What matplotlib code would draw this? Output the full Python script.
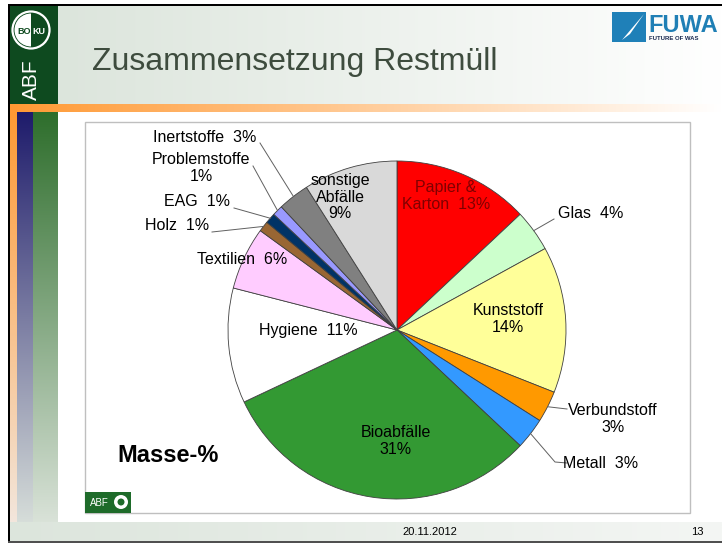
import matplotlib
matplotlib.use("Agg")
import matplotlib.pyplot as plt
import numpy as np
from matplotlib.colors import to_rgb
from matplotlib.patches import Rectangle, Circle, Wedge, Polygon

plt.rcParams['font.family'] = ['Liberation Sans', 'DejaVu Sans']

# ---------------- data ----------------
categories = ["Papier & Karton", "Glas", "Kunststoff", "Verbundstoff", "Metall",
              "Bioabfälle", "Hygiene", "Textilien", "Holz", "EAG",
              "Problemstoffe", "Inertstoffe", "sonstige Abfälle"]
values = [13, 4, 14, 3, 3, 31, 11, 6, 1, 1, 1, 3, 9]
slice_colors = ['#FF0000', '#CCFFCC', '#FFFF99', '#FF9900', '#3399FF',
                '#339933', '#FFFFFF', '#FFCCFF', '#996633', '#003366',
                '#9999FF', '#808080', '#D9D9D9']
label_texts = ["Papier &\nKarton  13%", "Glas  4%", "Kunststoff\n14%",
               "Verbundstoff\n3%", "Metall  3%", "Bioabfälle\n31%",
               "Hygiene  11%", "Textilien  6%", "Holz  1%", "EAG  1%",
               "Problemstoffe\n1%", "Inertstoffe  3%", "sonstige\nAbfälle\n9%"]
title = "Zusammensetzung Restmüll"
unit_label = "Masse-%"
date_text = "20.11.2012"
page_text = "13"

# ---------------- layout (pixel coordinates, y downward) ----------------
W, H = 722, 546
fig = plt.figure(figsize=(W / 100, H / 100), dpi=100)
ax = fig.add_axes([0, 0, 1, 1])

def P(px, py):
    return (px, H - py)

def grad(x0, x1, y0, y1, c0, c1, horizontal=True, n=256, z=0):
    a = np.array(to_rgb(c0)); b = np.array(to_rgb(c1))
    t = np.linspace(0, 1, n)
    cols = a[None, :] * (1 - t[:, None]) + b[None, :] * t[:, None]
    img = cols[None, :, :] if horizontal else cols[:, None, :]
    ax.imshow(img, extent=(x0, x1, H - y1, H - y0), aspect='auto',
              origin='upper', interpolation='bilinear', zorder=z)

def rect(x0, y0, x1, y1, fc, ec='none', lw=0, z=1):
    ax.add_patch(Rectangle(P(x0, y1), x1 - x0, y1 - y0, facecolor=fc,
                           edgecolor=ec, linewidth=lw, zorder=z))

# background
rect(0, 0, W, H, 'white', z=0)
# header gradient
grad(58, W, 6, 104, '#DCE5DC', '#FFFFFF', z=1)
# dark green logo block
rect(10, 6, 58, 104, '#0E4A1F', z=2)
# orange bar
grad(10, W, 104, 112, '#FF9933', '#FFFFFF', z=2)
# left vertical strips
grad(10, 17, 112, 522, '#FF9933', '#F2E6DC', horizontal=False, z=2)
grad(17, 33, 112, 522, '#1E1B6B', '#D6DDD9', horizontal=False, z=2)
grad(33, 58, 112, 522, '#2E6E2C', '#D9E2D8', horizontal=False, z=2)
# footer band
grad(10, W, 522, 541, '#DCE5DC', '#F4F6F4', z=2)
# borders
rect(8, 4, W, 6, 'black', z=3)
rect(8, 4, 10, 543, 'black', z=3)
rect(8, 541, W, 543, '#505050', z=3)

# BOKU logo
ax.add_patch(Circle(P(31, 30), 18.5, facecolor='#0E4A1F', edgecolor='white', linewidth=1.6, zorder=4))
ax.add_patch(Wedge(P(31, 30), 16.5, 90, 270, facecolor='white', edgecolor='none', zorder=4))
ax.text(*P(24, 31), "BO", color='#0E4A1F', fontsize=6.5, fontweight='bold', ha='center', va='center', zorder=5)
ax.text(*P(38.5, 31), "KU", color='white', fontsize=6.5, fontweight='bold', ha='center', va='center', zorder=5)
ax.text(*P(31, 80), "ABF", color='white', fontsize=15, rotation=90, ha='center', va='center', zorder=5)

# FUWA logo
rect(612, 12, 646, 42, '#1F80B8', z=4)
ax.add_patch(Polygon([P(622, 40), P(644, 14), P(630, 34)], closed=True, facecolor='white', edgecolor='none', zorder=5))
ax.text(*P(648, 25), "FUWA", color='#1F7FB5', fontsize=17, fontweight='bold', ha='left', va='center', zorder=5)
ax.text(*P(649, 38.5), "FUTURE OF WAS", color='#1A2A50', fontsize=4.3, fontweight='bold', ha='left', va='center', zorder=5)

# title
ax.text(*P(92, 62), title, color='#3E4C3E', fontsize=23, ha='left', va='center', zorder=5)

# chart box
rect(85, 122, 690, 513, 'white', ec='#BFBFBF', lw=1.0, z=3)

# ---------------- pie ----------------
cx, cy, R = 397, 330, 169
wedges, _ = ax.pie(values, colors=slice_colors, startangle=90, counterclock=False,
                   center=P(cx, cy), radius=R, frame=True,
                   wedgeprops=dict(edgecolor='#404040', linewidth=0.6))
for w in wedges:
    w.set_zorder(4)

# label positions (pixel, y downward)
label_pos = [(446, 196), (591, 213), (508, 319), (613, 419), (601, 463),
             (396, 441), (308, 330), (242, 259), (177, 226), (197, 202),
             (201, 168), (205, 137), (340, 197)]
label_col = ['#800000'] + ['black'] * 12
# leader line ends at the label side (None = no leader)
leader_end = [None, (554, 219), None, (567, 409), (567, 463), None, None, None,
              (212, 232), (234, 208), (253, 166), (260, 143), None]
leader_mid = {4: (555, 462)}

for i, w in enumerate(wedges):
    x, y = label_pos[i]
    ax.text(*P(x, y), label_texts[i], color=label_col[i], fontsize=11.5,
            ha='center', va='center', linespacing=1.12, zorder=6)
    if leader_end[i] is not None:
        th = np.deg2rad((w.theta1 + w.theta2) / 2)
        ex, ey = w.center[0] + R * np.cos(th), w.center[1] + R * np.sin(th)
        pts = [(ex, ey)]
        if i in leader_mid:
            pts.append(P(*leader_mid[i]))
        pts.append(P(*leader_end[i]))
        xs, ys = zip(*pts)
        ax.plot(xs, ys, color='#606060', lw=0.7, zorder=5)

# unit label
ax.text(*P(117, 456), unit_label, fontsize=17, fontweight='bold', ha='left', va='center', zorder=6)

# ABF logo in chart box
rect(85, 492, 131, 513, '#1E6B2A', z=6)
ax.text(*P(99, 503), "ABF", color='white', fontsize=7, ha='center', va='center', zorder=7)
ax.add_patch(Circle(P(121, 502), 7, facecolor='white', edgecolor='none', zorder=7))
ax.add_patch(Circle(P(121, 502), 3.5, facecolor='#1E6B2A', edgecolor='none', zorder=7))

# footer
ax.text(*P(430, 532), date_text, fontsize=8, ha='center', va='center', zorder=6)
ax.text(*P(697, 532), page_text, fontsize=8, ha='center', va='center', zorder=6)

ax.set_xlim(0, W)
ax.set_ylim(0, H)
ax.set_aspect('auto')
ax.axis('off')
fig.savefig("out.png", dpi=100)
